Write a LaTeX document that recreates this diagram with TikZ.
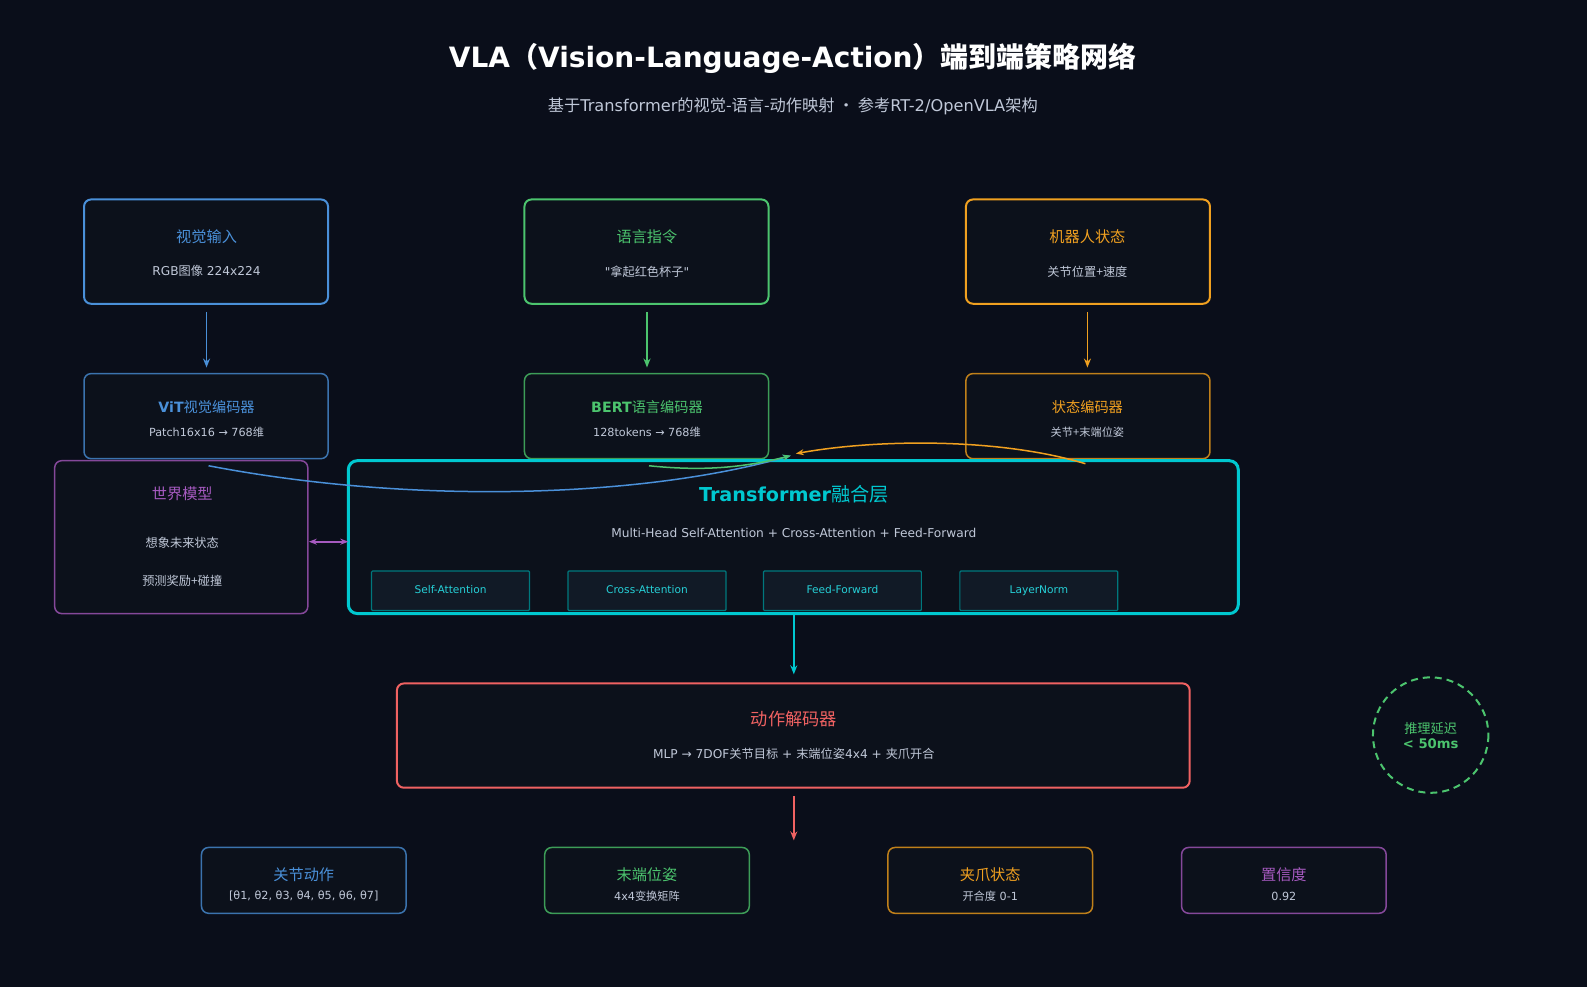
\documentclass[tikz,border=0pt]{standalone}
\usepackage{fontspec}
\setmainfont{DejaVu Sans}
\newfontfamily\plain{DejaVu Sans}
\newfontfamily\cjk{Noto Sans CJK SC}
\newcommand{\zh}[1]{{\cjk #1}}
\usetikzlibrary{arrows.meta}
\definecolor{bg}{HTML}{0A0E1A}
\definecolor{fillc}{HTML}{0C111B}
\definecolor{subf}{HTML}{111A26}
\definecolor{cblue}{HTML}{4A90D9}
\definecolor{cgreen}{HTML}{4CC46E}
\definecolor{corange}{HTML}{F0A020}
\definecolor{cred}{HTML}{F06262}
\definecolor{cpurple}{HTML}{A65AC0}
\definecolor{ccyan}{HTML}{00C8D0}
\definecolor{tgray}{HTML}{C0C8D8}
\begin{document}
\begin{tikzpicture}[x=1.0125pt,y=-1.0125pt,
 box/.style={draw=#1,fill=fillc,rounded corners=7pt,line width=2pt},
 ebox/.style={draw=#1!80!black,fill=fillc,rounded corners=7pt,line width=1.5pt},
 sbox/.style={draw=ccyan!60!black,fill=subf,line width=1.2pt,rounded corners=1pt},
 ttl/.style={text=#1,font=\fontsize{15.2}{18}\selectfont},
 txt/.style={text=tgray,font=\fontsize{12.2}{14}\selectfont},
 stxt/.style={text=tgray,font=\fontsize{11.2}{13}\selectfont},
 arr/.style={draw=#1,line width=1.7pt,-{Stealth[length=9pt,width=7pt]}}]
\useasboundingbox (0,0) rectangle (1567.4,974.8);
\fill[bg] (0,0) rectangle (1567.4,974.8);
\node[text=white,font=\bfseries\fontsize{28}{32}\selectfont] (title) at (783,58) {VLA\zh{（}Vision-Language-Action\zh{）端到端策略网络}};
\node[text=tgray,font=\fontsize{16.2}{19}\selectfont] (subtitle) at (783,105) {\zh{基于}Transformer\zh{的视觉-语言-动作映射 · 参考}RT-2/OpenVLA\zh{架构}};
% top inputs
\draw[box=cblue] (83,197) rectangle (324,300);
\node[ttl=cblue] (t1) at (204,234) {\zh{视觉输入}}; \node[txt] (s1) at (204,268) {RGB\zh{图像} 224x224};
\draw[box=cgreen] (518,197) rectangle (759,300);
\node[ttl=cgreen] (t2) at (639,234) {\zh{语言指令}}; \node[txt] (s2) at (639,268) {{\plain "}\zh{拿起红色杯子}{\plain "}};
\draw[box=corange] (954,197) rectangle (1195,300);
\node[ttl=corange] (t3) at (1074,234) {\zh{机器人状态}}; \node[txt] (s3) at (1074,268) {\zh{关节位置+速度}};
\coordinate (a1s) at (204,308); \coordinate (a1e) at (204,363);
\coordinate (a2s) at (639,308); \coordinate (a2e) at (639,363);
\coordinate (a3s) at (1074,308); \coordinate (a3e) at (1074,363);
\draw[arr=cblue] (a1s)--(a1e); \draw[arr=cgreen] (a2s)--(a2e); \draw[arr=corange] (a3s)--(a3e);
% encoders
\draw[ebox=cblue] (83,369) rectangle (324,453);
\node[ttl=cblue,font=\fontsize{14.2}{17}\selectfont] (e1) at (204,402) {\textbf{ViT}\zh{视觉编码器}}; \node[stxt] (es1) at (204,427) {Patch16x16 → 768\zh{维}};
\draw[ebox=cgreen] (518,369) rectangle (759,453);
\node[ttl=cgreen,font=\fontsize{14.2}{17}\selectfont] (e2) at (639,402) {\textbf{BERT}\zh{语言编码器}}; \node[stxt] (es2) at (639,427) {128tokens → 768\zh{维}};
\draw[ebox=corange] (954,369) rectangle (1195,453);
\node[ttl=corange,font=\fontsize{14.2}{17}\selectfont] (e3) at (1074,402) {\zh{状态编码器}}; \node[stxt] (es3) at (1074,427) {\zh{关节+末端位姿}};
% world model
\draw[ebox=cpurple] (54,455) rectangle (304,606);
\node[ttl=cpurple] (w1) at (180,488) {\zh{世界模型}};
\node[txt] (w2) at (180,536) {\zh{想象未来状态}};
\node[txt] (w3) at (180,574) {\zh{预测奖励+碰撞}};
% transformer
\draw[draw=ccyan,fill=fillc,rounded corners=9pt,line width=3pt] (344,455) rectangle (1223,606);
\node[text=ccyan,font=\fontsize{19.2}{22}\selectfont] (tt) at (784,488) {\textbf{Transformer}\zh{融合层}};
\node[txt] (ts) at (784,526) {Multi-Head Self-Attention + Cross-Attention + Feed-Forward};
\foreach \x/\l/\n in {367/Self-Attention/sa,561/Cross-Attention/ca,754/Feed-Forward/ff,948/LayerNorm/ln}{
 \draw[sbox] (\x,564) rectangle (\x+156,603);
 \node[text=ccyan!85!white,font=\fontsize{10.6}{13}\selectfont] (\n) at (\x+78,583.5) {\strut\l};}
% curves
\coordinate (c1) at (206,460); \coordinate (c2) at (641,460); \coordinate (c3) at (1072,458); \coordinate (cm) at (781,450);
\draw[cblue,line width=1.5pt,-{Stealth[length=8pt,width=6pt]}] (c1) .. controls (415,500) and (640,490) .. (cm);
\draw[cgreen,line width=1.5pt,-{Stealth[length=8pt,width=6pt]}] (c2) .. controls (690,465) and (730,463) .. (cm);
\draw[corange,line width=1.5pt,-{Stealth[length=8pt,width=6pt]}] (c3) .. controls (990,433) and (870,433) .. (786,448);
\coordinate (wl) at (305,535); \coordinate (wr) at (344,535);
\draw[cpurple,line width=1.7pt,{Stealth[length=8pt,width=6pt]}-{Stealth[length=8pt,width=6pt]}] (wl)--(wr);
\coordinate (d1) at (784,606); \coordinate (d2) at (784,666);
\draw[arr=ccyan] (d1)--(d2);
% decoder
\draw[box=cred] (392,675) rectangle (1175,778);
\node[ttl=cred,font=\fontsize{17.2}{20}\selectfont] (dt) at (784,710) {\zh{动作解码器}};
\node[txt] (ds) at (784,745) {MLP → 7DOF\zh{关节目标} + \zh{末端位姿}4x4 + \zh{夹爪开合}};
\coordinate (o1) at (784,786); \coordinate (o2) at (784,830);
\draw[arr=cred] (o1)--(o2);
% outputs
\foreach \x/\c/\a/\b/\n in {199/cblue/关节动作/{[θ1, θ2, θ3, θ4, θ5, θ6, θ7]}/p1,538/cgreen/末端位姿/4x4\zh{变换矩阵}/p2,877/corange/夹爪状态/\zh{开合度} 0-1/p3,1167/cpurple/置信度/0.92/p4}{
 \draw[ebox=\c] (\x,837) rectangle (\x+202,902);
 \node[ttl=\c] (\n a) at (\x+101,864) {\zh{\a}};
 \node[stxt] (\n b) at (\x+101,885) {\b};}
% latency circle
\draw[cgreen,line width=2pt,dash pattern=on 7pt off 5pt] (1413,726) circle (57);
\node[text=cgreen,font=\fontsize{13.2}{15}\selectfont,align=center] (lat) at (1413,726) {\zh{推理延迟}\\\textbf{< 50ms}};
\end{tikzpicture}
\end{document}
